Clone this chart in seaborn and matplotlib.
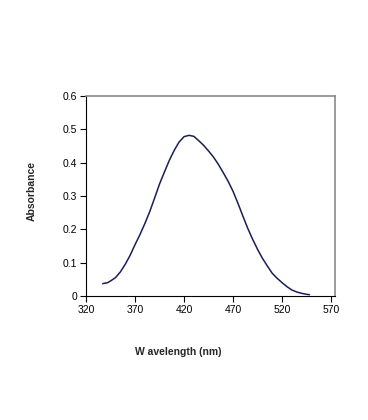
import matplotlib
matplotlib.use("Agg")
import matplotlib.pyplot as plt
import seaborn as sns
import pandas as pd

wavelength = [337, 342, 345, 350, 355, 360, 365, 370, 375, 380, 385, 390, 395, 400,
              405, 410, 415, 420, 425, 430, 435, 440, 445, 450, 455, 460, 465, 470,
              475, 480, 485, 490, 495, 500, 505, 510, 515, 520, 525, 530, 535, 540,
              545, 548]
absorbance = [0.037, 0.040, 0.045, 0.055, 0.072, 0.095, 0.122, 0.154, 0.184, 0.217,
              0.253, 0.294, 0.336, 0.372, 0.407, 0.437, 0.462, 0.478, 0.482, 0.479,
              0.466, 0.452, 0.435, 0.417, 0.395, 0.370, 0.344, 0.314, 0.278, 0.240,
              0.203, 0.170, 0.140, 0.113, 0.090, 0.068, 0.053, 0.040, 0.028, 0.018,
              0.012, 0.008, 0.005, 0.004]
x_ticks = [320, 370, 420, 470, 520, 570]
y_ticks = [0, 0.1, 0.2, 0.3, 0.4, 0.5, 0.6]
y_tick_labels = ["0", "0.1", "0.2", "0.3", "0.4", "0.5", "0.6"]

sns.set_style("white")
plt.rcParams['font.family'] = ['Liberation Sans', 'DejaVu Sans']

df = pd.DataFrame({"Wavelength": wavelength, "Absorbance": absorbance})

fig = plt.figure(figsize=(3.68, 4.20), dpi=100)
ax = fig.add_axes([86/368, 1-296/420, 249/368, 200/420])
sns.lineplot(data=df, x="Wavelength", y="Absorbance", ax=ax, color="#1c1c5c", linewidth=1.1)

ax.set_xlim(320, 574)
ax.set_ylim(0, 0.6)
ax.set_xticks(x_ticks)
ax.set_xticklabels([str(t) for t in x_ticks])
ax.set_yticks(y_ticks)
ax.set_yticklabels(y_tick_labels)
ax.tick_params(axis="both", which="major", direction="out", length=4, width=0.8,
               labelsize=7.5, colors="#000000", pad=2.5)
ax.tick_params(left=True, bottom=True)
for side in ["left", "bottom"]:
    ax.spines[side].set_color("#000000")
    ax.spines[side].set_linewidth(0.8)
for side in ["top", "right"]:
    ax.spines[side].set_color("#8a8a8a")
    ax.spines[side].set_linewidth(1.2)
    ax.spines[side].set_visible(True)
ax.set_xlabel("")
ax.set_ylabel("")

fig.text(178/368, 1-352/420, "W avelength (nm)", ha="center", va="center",
         fontsize=7.5, fontweight="bold")
fig.text(32/368, 1-191/420, "Absorbance", ha="center", va="center",
         rotation=90, fontsize=7.5, fontweight="bold")

fig.savefig("out.png", dpi=100)
